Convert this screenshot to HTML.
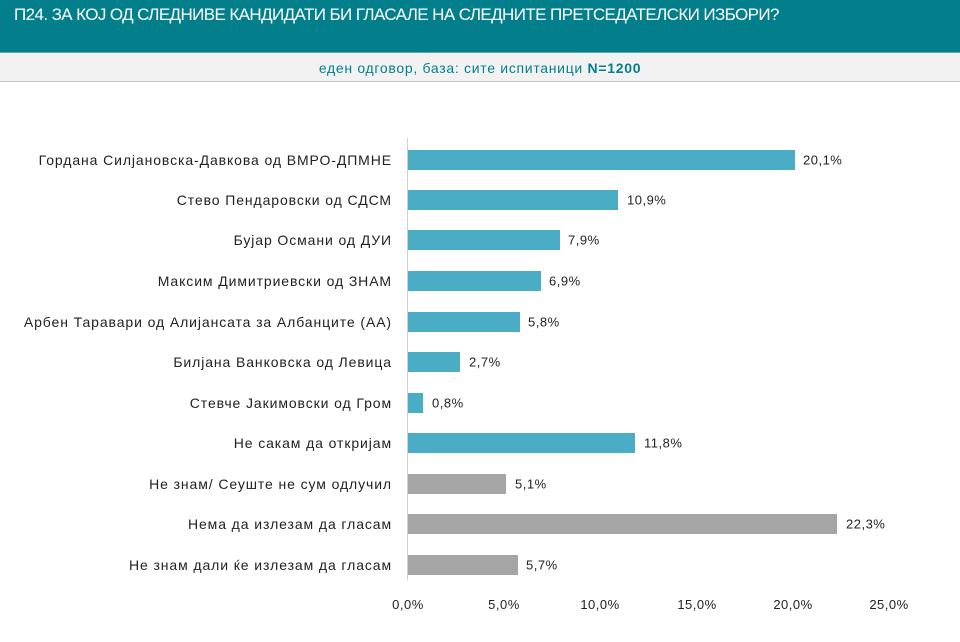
<!DOCTYPE html>
<html><head><meta charset="utf-8"><style>
body{margin:0;width:960px;height:642px;background:#fff;position:relative;overflow:hidden;font-family:"Liberation Sans",sans-serif;}
.hdr{position:absolute;left:0;top:0;width:960px;height:52px;background:#037f8c;border-bottom:1px solid #5aa9b2;}
.hdr span{position:absolute;left:14px;top:5px;color:#fff;font-size:17px;letter-spacing:-0.6px;}
.sub{position:absolute;left:0;top:53px;width:960px;height:28px;background:#f2f2f2;border-bottom:1px solid #c8c8c8;text-align:center;line-height:30px;color:#037f8c;font-size:14px;letter-spacing:0.7px;}
.lab{position:absolute;right:568px;font-size:14px;letter-spacing:0.9px;color:#222;white-space:nowrap;transform:translateY(-50%);}
.bar{position:absolute;left:408px;height:20px;transform:translateY(-50%);}
.val{position:absolute;font-size:13px;letter-spacing:0.5px;color:#222;transform:translateY(-50%);}
.tick{position:absolute;top:597px;font-size:13px;letter-spacing:0.5px;color:#222;transform:translateX(-50%);}
</style></head><body>
<div class="hdr"><span>П24. ЗА КОЈ ОД СЛЕДНИВЕ КАНДИДАТИ БИ ГЛАСАЛЕ НА СЛЕДНИТЕ ПРЕТСЕДАТЕЛСКИ ИЗБОРИ?</span></div>
<div class="sub">еден одговор, база: сите испитаници <b>N=1200</b></div>
<div style="position:absolute;left:407px;top:138px;width:1px;height:442px;background:#d0d0d0"></div>

<div class="lab" style="top:160px">Гордана Силјановска-Давкова од ВМРО-ДПМНЕ</div>
<div class="bar" style="top:160px;width:387px;background:#4bacc6"></div><div class="val" style="top:160px;left:803px">20,1%</div>

<div class="lab" style="top:200px">Стево Пендаровски од СДСМ</div>
<div class="bar" style="top:200px;width:210px;background:#4bacc6"></div><div class="val" style="top:200px;left:627px">10,9%</div>

<div class="lab" style="top:240px">Бујар Османи од ДУИ</div>
<div class="bar" style="top:240px;width:152px;background:#4bacc6"></div><div class="val" style="top:240px;left:568px">7,9%</div>

<div class="lab" style="top:281px">Максим Димитриевски од ЗНАМ</div>
<div class="bar" style="top:281px;width:133px;background:#4bacc6"></div><div class="val" style="top:281px;left:549px">6,9%</div>

<div class="lab" style="top:322px">Арбен Таравари од Алијансата за Албанците (АА)</div>
<div class="bar" style="top:322px;width:112px;background:#4bacc6"></div><div class="val" style="top:322px;left:528px">5,8%</div>

<div class="lab" style="top:362px">Билјана Ванковска од Левица</div>
<div class="bar" style="top:362px;width:52px;background:#4bacc6"></div><div class="val" style="top:362px;left:469px">2,7%</div>

<div class="lab" style="top:403px">Стевче Јакимовски од Гром</div>
<div class="bar" style="top:403px;width:15px;background:#4bacc6"></div><div class="val" style="top:403px;left:432px">0,8%</div>

<div class="lab" style="top:443px">Не сакам да откријам</div>
<div class="bar" style="top:443px;width:227px;background:#4bacc6"></div><div class="val" style="top:443px;left:644px">11,8%</div>

<div class="lab" style="top:484px">Не знам/ Сеуште не сум одлучил</div>
<div class="bar" style="top:484px;width:98px;background:#a5a5a5"></div><div class="val" style="top:484px;left:515px">5,1%</div>

<div class="lab" style="top:524px">Нема да излезам да гласам</div>
<div class="bar" style="top:524px;width:429px;background:#a5a5a5"></div><div class="val" style="top:524px;left:846px">22,3%</div>

<div class="lab" style="top:565px">Не знам дали ќе излезам да гласам</div>
<div class="bar" style="top:565px;width:110px;background:#a5a5a5"></div><div class="val" style="top:565px;left:526px">5,7%</div>

<div class="tick" style="left:408px">0,0%</div>
<div class="tick" style="left:504px">5,0%</div>
<div class="tick" style="left:600px">10,0%</div>
<div class="tick" style="left:697px">15,0%</div>
<div class="tick" style="left:793px">20,0%</div>
<div class="tick" style="left:889px">25,0%</div>
</body></html>
